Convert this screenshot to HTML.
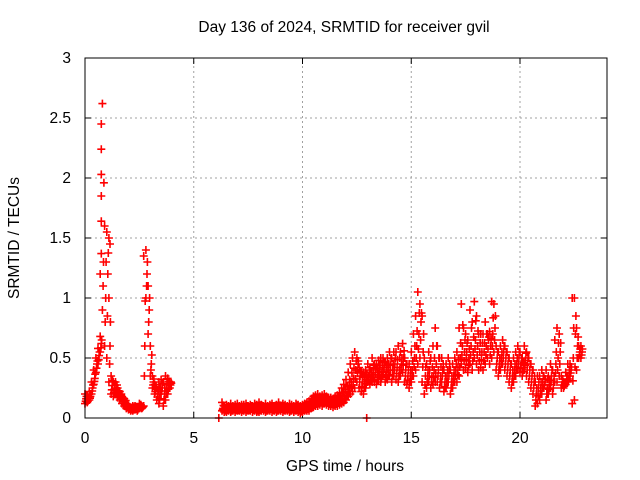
<!DOCTYPE html>
<html><head><meta charset="utf-8"><style>
body{margin:0;background:#fff}
svg{display:block;font-family:"Liberation Sans",sans-serif;font-size:15.5px}
</style></head><body>
<svg id="chart" width="640" height="480" viewBox="0 0 640 480">
<text x="344" y="32" text-anchor="middle">Day 136 of 2024, SRMTID for receiver gvil</text>
<text x="345" y="471" text-anchor="middle">GPS time / hours</text>
<text transform="translate(19,238) rotate(-90)" text-anchor="middle">SRMTID / TECUs</text>
<g id="grid"></g>
<g id="ticks"></g>
<g id="marks"></g>
<rect x="85" y="58" width="522" height="360" fill="none" stroke="#000" stroke-width="1"/>
</svg>
<script>
const xTicks=[0,5,10,15,20];
const yTicks=[0,0.5,1,1.5,2,2.5,3];
const yTickLabels=["0","0.5","1","1.5","2","2.5","3"];
const segAStart=0;
const segALo=[.12,.13,.15,.2,.28,.38,.45,.55,.9,.6,.5,.3,.2,.18,.2,.17,.15,.12,.1,.08,.07,.06,.06,.07,.06,.08,.08,.1,1.0,.7,.35,.25,.2,.15,.12,.2,.1,.15,.2,.25];
const segAMid=[.16,.15,.18,.25,.33,.45,.52,.62,1.3,1.0,1.2,.6,.27,.24,.25,.2,.18,.15,.13,.1,.08,.08,.08,.08,.08,.1,.09,.6,1.2,.9,.45,.3,.24,.2,.2,.25,.2,.25,.28,.3];
const segAHi=[.2,.18,.22,.3,.4,.5,.58,.68,2.62,1.6,1.55,1.0,.35,.3,.3,.25,.22,.18,.16,.12,.1,.09,.1,.1,.09,.12,.1,1.35,1.4,1.1,.6,.35,.28,.25,.3,.32,.3,.35,.33,.28];
const segBStart=6.3;
const segBLo=[.06,.05,.05,.06,.05,.06,.05,.06,.06,.05, .06,.05,.06,.06,.05,.06,.05,.05,.06,.06, .05,.06,.06,.05,.06,.05,.06,.06,.05,.06, .06,.05,.06,.05,.06,.05,.04,.05,.06,.06,
.06,.08,.09,.1,.1,.11,.1,.12,.11,.1, .1,.09,.1,.1,.11,.12,.13,.15,.18,.2, .22,.25,.3,.25,.22,.2,.25,.3,.28,.3, .3,.28,.32,.3,.35,.3,.32,.35,.3,.35,
.32,.3,.35,.38,.3,.28,.25,.3,.35,.4, .45,.5,.3,.2,.25,.3,.25,.28,.3,.3, .25,.3,.22,.25,.3,.2,.25,.3,.3,.35, .45,.4,.42,.38,.45,.4,.5,.45,.4,.42,
.4,.45,.5,.45,.5,.55,.4,.35,.4,.45, .4,.35,.3,.25,.3,.35,.4,.38,.35,.4, .35,.3,.25,.2,.1,.12,.15,.2,.25,.15, .2,.25,.2,.3,.3,.35,.25,.25,.28,.3, .35,.12,.15,.4,.5,.5];
const segBMid=[.08,.07,.08,.08,.07,.08,.08,.07,.08,.08, .08,.08,.07,.09,.08,.08,.07,.08,.09,.08, .07,.08,.09,.08,.08,.07,.08,.09,.08,.08, .08,.07,.08,.08,.09,.07,.07,.08,.08,.09,
.1,.12,.13,.14,.14,.15,.14,.15,.14,.13, .13,.13,.14,.15,.16,.18,.2,.22,.26,.3, .33,.4,.45,.35,.3,.3,.32,.35,.34,.38, .38,.36,.4,.38,.42,.38,.4,.44,.4,.45,
.42,.4,.45,.5,.4,.35,.35,.4,.5,.6, .7,.8,.55,.35,.35,.4,.35,.4,.45,.4, .35,.4,.3,.35,.4,.3,.35,.4,.42,.5, .6,.55,.55,.5,.6,.55,.65,.6,.55,.55,
.55,.6,.65,.6,.7,.75,.5,.45,.5,.55, .5,.45,.4,.35,.4,.45,.5,.45,.42,.48, .45,.4,.35,.3,.2,.25,.25,.3,.3,.25, .28,.35,.3,.45,.5,.55,.3,.28,.32,.35, .4,.5,.7,.6,.55,.55];
const segBHi=[.13,.1,.11,.1,.12,.1,.11,.12,.1,.11, .11,.12,.1,.11,.1,.12,.11,.13,.11,.1, .12,.1,.11,.12,.1,.11,.13,.1,.12,.11, .1,.12,.11,.1,.12,.11,.1,.11,.12,.13,
.14,.16,.18,.19,.2,.18,.19,.2,.18,.17, .17,.16,.18,.19,.21,.25,.28,.32,.38,.45, .5,.55,.5,.42,.38,.38,.4,.45,.42,.5, .45,.44,.48,.5,.5,.47,.5,.55,.5,.55,
.55,.6,.55,.62,.5,.45,.45,.55,.7,.85, 1.05,.95,.85,.5,.45,.55,.5,.6,.75,.6, .5,.5,.4,.45,.5,.4,.45,.5,.55,.75, .95,.75,.7,.65,.9,.8,.97,.85,.7,.7,
.7,.8,.7,.72,.97,.95,.6,.55,.6,.65, .6,.55,.5,.45,.5,.55,.6,.55,.5,.6, .55,.5,.45,.4,.3,.35,.35,.4,.35,.4, .35,.45,.4,.65,.75,.7,.35,.3,.38,.45, .45,1.0,1.0,.75,.6,.6];
const extraTimes=[0.75,0.75,0.75,0.75,0.75,0.75,0.7,1.1,1.15,6.15,12.95,22.5];
const extraValues=[2.45,2.24,2.03,1.85,1.64,1.37,1.2,1.5,1.45,0.0,0.0,0.15];

const X0=85,X1=607,Y0=418,Y1=58,XMAX=24,YMAX=3;
const xs=t=>X0+(X1-X0)*t/XMAX;
const ys=v=>Y0-(Y0-Y1)*v/YMAX;
const NS='http://www.w3.org/2000/svg';
function mk(tag,attrs,parent){const e=document.createElementNS(NS,tag);for(const k in attrs)e.setAttribute(k,attrs[k]);parent.appendChild(e);return e;}
const grid=document.getElementById('grid'),ticks=document.getElementById('ticks'),marks=document.getElementById('marks');
xTicks.forEach(t=>{const x=xs(t);
 if(t>0){const g=mk('line',{x1:x,x2:x,y1:Y0,y2:Y1,stroke:'#a0a0a0','stroke-dasharray':'2,3'},grid);
 
 }
 mk('line',{x1:x,x2:x,y1:Y0,y2:Y0-6,stroke:'#000'},ticks);
 mk('line',{x1:x,x2:x,y1:Y1,y2:Y1+6,stroke:'#000'},ticks);
 const l=mk('text',{x:x,y:443,'text-anchor':'middle'},ticks);l.textContent=t;
 
 
});
yTicks.forEach((v,i)=>{const y=ys(v);
 if(v>0&&v<3){const g=mk('line',{x1:X0,x2:X1,y1:y,y2:y,stroke:'#a0a0a0','stroke-dasharray':'2,3'},grid);
 
 }
 mk('line',{x1:X0,x2:X0+6,y1:y,y2:y,stroke:'#000'},ticks);
 mk('line',{x1:X1,x2:X1-6,y1:y,y2:y,stroke:'#000'},ticks);
 const l=mk('text',{x:71,y:y+5,'text-anchor':'end'},ticks);l.textContent=yTickLabels[i];
 
 
});
let d='';
function plus(t,v){const x=xs(t),y=ys(v);d+=`M${(x-4).toFixed(1)} ${y.toFixed(1)}h8M${x.toFixed(1)} ${(y-4).toFixed(1)}v8`;}
[[segAStart,segALo,segAMid,segAHi],[segBStart,segBLo,segBMid,segBHi]].forEach(([s,lo,mid,hi])=>{
 for(let i=0;i<lo.length;i++){const t=s+i*0.1;plus(t,lo[i]);plus(t+0.05,mid[i]);plus(t,hi[i]);
  plus(t+0.03,(lo[i]+mid[i])/2);plus(t+0.07,(mid[i]+hi[i])/2);}
});
extraTimes.forEach((t,i)=>plus(t,extraValues[i]));
const p=mk('path',{d:d,stroke:'#ff0000','stroke-width':1.6,fill:'none'},marks);


</script>
</body></html>
